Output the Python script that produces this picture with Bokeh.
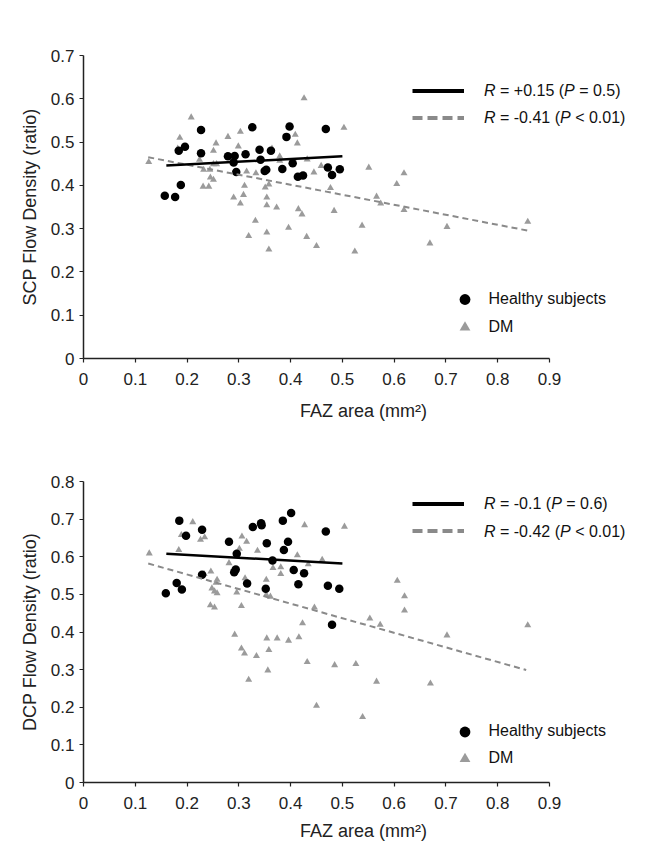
from bokeh.plotting import figure
from bokeh.layouts import column
from bokeh.models import Label, Legend, LegendItem, Range1d, FixedTicker
from bokeh.embed import file_html
from bokeh.resources import INLINE

# ---------------- data ----------------
x_ticks = [0, 0.1, 0.2, 0.3, 0.4, 0.5, 0.6, 0.7, 0.8, 0.9]
x_tick_labels = ["0", "0.1", "0.2", "0.3", "0.4", "0.5", "0.6", "0.7", "0.8", "0.9"]
a_y_ticks = [0, 0.1, 0.2, 0.3, 0.4, 0.5, 0.6, 0.7]
a_y_tick_labels = ["0", "0.1", "0.2", "0.3", "0.4", "0.5", "0.6", "0.7"]
b_y_ticks = [0, 0.1, 0.2, 0.3, 0.4, 0.5, 0.6, 0.7, 0.8]
b_y_tick_labels = ["0", "0.1", "0.2", "0.3", "0.4", "0.5", "0.6", "0.7", "0.8"]

# Panel A (SCP)
a_healthy_x = [0.227, 0.326, 0.398, 0.392, 0.468, 0.184, 0.196, 0.227, 0.279, 0.292,
               0.290, 0.313, 0.340, 0.362, 0.342, 0.295, 0.350, 0.353, 0.384, 0.404,
               0.414, 0.424, 0.472, 0.480, 0.495, 0.188, 0.157, 0.177]
a_healthy_y = [0.528, 0.534, 0.536, 0.512, 0.530, 0.480, 0.489, 0.474, 0.467, 0.468,
               0.453, 0.472, 0.482, 0.480, 0.459, 0.431, 0.433, 0.436, 0.438, 0.451,
               0.420, 0.423, 0.441, 0.424, 0.437, 0.401, 0.376, 0.373]
a_dm_x = [0.426, 0.208, 0.186, 0.303, 0.279, 0.256, 0.299, 0.251, 0.409, 0.413,
          0.182, 0.126, 0.224, 0.251, 0.257, 0.232, 0.244, 0.245, 0.251, 0.231,
          0.242, 0.315, 0.333, 0.379, 0.379, 0.364, 0.432, 0.445, 0.459, 0.311,
          0.351, 0.358, 0.477, 0.290, 0.309, 0.303, 0.354, 0.354, 0.373, 0.415,
          0.422, 0.484, 0.332, 0.396, 0.354, 0.319, 0.431, 0.450, 0.358,
          0.503, 0.551, 0.619, 0.605, 0.566, 0.574, 0.619, 0.538, 0.702, 0.669,
          0.524, 0.858]
a_dm_y = [0.601, 0.557, 0.510, 0.524, 0.512, 0.497, 0.490, 0.480, 0.517, 0.497,
          0.485, 0.454, 0.459, 0.449, 0.449, 0.436, 0.436, 0.418, 0.413, 0.397,
          0.397, 0.432, 0.428, 0.467, 0.457, 0.485, 0.460, 0.430, 0.445, 0.399,
          0.395, 0.402, 0.394, 0.372, 0.378, 0.358, 0.372, 0.354, 0.349, 0.345,
          0.333, 0.341, 0.318, 0.302, 0.291, 0.283, 0.281, 0.260, 0.252,
          0.533, 0.441, 0.428, 0.403, 0.374, 0.358, 0.343, 0.307, 0.304, 0.266,
          0.247, 0.316]
a_fit_healthy_x = [0.16, 0.50]
a_fit_healthy_y = [0.446, 0.467]
a_fit_dm_x = [0.125, 0.86]
a_fit_dm_y = [0.465, 0.295]
a_stats = [("+0.15", "=", "0.5"), ("-0.41", "<", "0.01")]

# Panel B (DCP)
b_healthy_x = [0.185, 0.198, 0.229, 0.281, 0.296, 0.327, 0.343, 0.344, 0.354, 0.385,
               0.401, 0.395, 0.387, 0.468, 0.365, 0.406, 0.426, 0.294, 0.291, 0.229,
               0.316, 0.352, 0.415, 0.472, 0.494, 0.180, 0.190, 0.159, 0.480]
b_healthy_y = [0.696, 0.656, 0.672, 0.640, 0.608, 0.679, 0.689, 0.684, 0.636, 0.696,
               0.716, 0.640, 0.618, 0.667, 0.590, 0.565, 0.556, 0.566, 0.559, 0.552,
               0.529, 0.515, 0.527, 0.523, 0.515, 0.530, 0.513, 0.503, 0.419]
b_dm_x = [0.127, 0.211, 0.189, 0.184, 0.226, 0.234, 0.306, 0.315, 0.301, 0.336,
          0.281, 0.427, 0.413, 0.434, 0.461, 0.366, 0.381, 0.381, 0.246, 0.233,
          0.258, 0.256, 0.248, 0.253, 0.258, 0.296, 0.312, 0.353, 0.353, 0.361,
          0.245, 0.253, 0.305, 0.446, 0.423, 0.292, 0.354, 0.374, 0.396, 0.416,
          0.305, 0.311, 0.334, 0.358, 0.356, 0.319, 0.432, 0.485, 0.450,
          0.504, 0.606, 0.620, 0.620, 0.553, 0.573, 0.702, 0.858, 0.526, 0.566,
          0.670, 0.539]
b_dm_y = [0.609, 0.692, 0.658, 0.618, 0.645, 0.652, 0.654, 0.640, 0.621, 0.616,
          0.583, 0.684, 0.604, 0.580, 0.592, 0.570, 0.572, 0.554, 0.561, 0.554,
          0.539, 0.531, 0.516, 0.508, 0.503, 0.505, 0.543, 0.539, 0.499, 0.494,
          0.471, 0.465, 0.469, 0.465, 0.423, 0.393, 0.383, 0.383, 0.377, 0.386,
          0.356, 0.343, 0.336, 0.352, 0.298, 0.273, 0.320, 0.312, 0.204,
          0.680, 0.536, 0.495, 0.457, 0.436, 0.419, 0.391, 0.418, 0.315, 0.268,
          0.263, 0.174]
b_fit_healthy_x = [0.16, 0.50]
b_fit_healthy_y = [0.608, 0.582]
b_fit_dm_x = [0.125, 0.855]
b_fit_dm_y = [0.582, 0.299]
b_stats = [("-0.1", "=", "0.6"), ("-0.42", "<", "0.01")]

# ---------------- styling ----------------
FONT = "Liberation Sans"
TICK_FS = 17
TITLE_FS = 18
LEG_FS = 16
DM_GRAY = "#9b9b9b"
LINE_GRAY = "#8a8a8a"
FRAME_LEFT = 83
PX_PER_UNIT = 466 / 0.9      # x: 0 -> 0.9 spans 466 px
FRAME_W = 560                # frame wider than the axis so legends are not clipped
W_TOTAL = 649

# Arial advance widths (em) for laying out the mixed italic legend text
ADV = {' ': 0.278, '=': 0.584, '+': 0.584, '-': 0.333, '<': 0.584, '.': 0.278,
       '(': 0.333, ')': 0.333, 'R': 0.722, 'P': 0.667}


def text_w(s, fs):
    return sum(ADV.get(c, 0.556) for c in s) * fs


def make_panel(letter, ylabel, ymax, y_ticks, y_tick_labels, hx, hy, dx, dy,
               fhx, fhy, fdx, fdy, stats, top_b, frame_h, bottom_b,
               letter_xy, line_rows, marker_rows, title_standoff):
    p = figure(frame_width=FRAME_W, frame_height=frame_h,
               min_border_left=FRAME_LEFT, min_border_right=W_TOTAL - FRAME_LEFT - FRAME_W,
               min_border_top=top_b, min_border_bottom=bottom_b,
               x_range=Range1d(0, FRAME_W / PX_PER_UNIT), y_range=Range1d(0, ymax),
               output_backend="svg", toolbar_location=None, tools="")
    p.outline_line_color = None
    p.xgrid.visible = False
    p.ygrid.visible = False
    p.background_fill_color = "white"

    for ax, ticks, labels in ((p.xaxis[0], x_ticks, x_tick_labels),
                              (p.yaxis[0], y_ticks, y_tick_labels)):
        ax.ticker = FixedTicker(ticks=ticks)
        ax.major_label_overrides = {t: l for t, l in zip(ticks, labels)}
        ax.bounds = (ticks[0], ticks[-1])
        ax.minor_tick_line_color = None
        ax.major_tick_in = 0
        ax.major_tick_out = 4
        ax.axis_line_width = 1.5
        ax.major_tick_line_width = 1.2
        ax.axis_line_color = "#222222"
        ax.major_tick_line_color = "#222222"
        ax.major_label_text_font = FONT
        ax.major_label_text_font_size = f"{TICK_FS}px"
        ax.major_label_text_color = "#222222"
        ax.axis_label_text_font = FONT
        ax.axis_label_text_font_size = f"{TITLE_FS}px"
        ax.axis_label_text_font_style = "normal"
        ax.axis_label_text_color = "#222222"
    p.xaxis.axis_label = "FAZ area (mm²)"
    p.yaxis.axis_label = ylabel
    p.xaxis.major_label_standoff = 10
    p.xaxis.axis_label_standoff = title_standoff
    p.yaxis.major_label_standoff = 5
    p.yaxis.axis_label_standoff = 8

    def to_dx(px):
        return (px - FRAME_LEFT) / PX_PER_UNIT

    def to_dy(py):
        return (top_b + frame_h - py) / frame_h * ymax

    dm_r = p.scatter(dx, dy, marker="triangle", size=7, fill_color=DM_GRAY,
                     line_color=None)
    h_r = p.scatter(hx, hy, marker="circle", size=8.5, fill_color="black",
                    line_color=None)
    p.line(fdx, fdy, line_color=LINE_GRAY, line_width=2, line_dash="6 4")
    p.line(fhx, fhy, line_color="black", line_width=2.5)

    # legend samples for the fit lines (thicker, hidden renderers)
    solid_s = p.line(fhx, fhy, line_color="black", line_width=4, visible=False)
    dash_s = p.line(fdx, fdy, line_color=LINE_GRAY, line_width=4, line_dash="10 5",
                    visible=False)
    row_gap = line_rows[1] - line_rows[0]
    leg_top = line_rows[0] - row_gap / 2
    glyph_left = 412
    leg1 = Legend(items=[LegendItem(label=" ", renderers=[solid_s]),
                         LegendItem(label=" ", renderers=[dash_s])],
                  location=(glyph_left - FRAME_LEFT, top_b + frame_h - (leg_top + 2 * row_gap)),
                  padding=0, spacing=0, margin=0, glyph_width=52,
                  glyph_height=int(round(row_gap)), label_height=int(round(row_gap)),
                  label_width=0, label_standoff=0,
                  inactive_fill_alpha=0,
                  border_line_alpha=0, background_fill_alpha=0)
    p.add_layout(leg1)

    tx0 = 483.5
    sp = text_w(" ", LEG_FS)
    for (rv, op, pv), ry in zip(stats, line_rows):
        pieces = [("R", "italic"), (f" = {rv} (", "normal"), ("P", "italic"),
                  (f" {op} {pv})", "normal")]
        x = tx0
        for s, st in pieces:
            stripped = s.lstrip(" ")
            lead = len(s) - len(stripped)
            p.add_layout(Label(x=to_dx(x + lead * sp), y=to_dy(ry), text=stripped,
                               text_font=FONT, text_font_size=f"{LEG_FS}px",
                               text_font_style=st, text_align="left",
                               text_baseline="middle", text_color="#111111"))
            x += text_w(s, LEG_FS)

    # legend for markers
    mgap = marker_rows[1] - marker_rows[0]
    m_top = marker_rows[0] - mgap / 2
    leg2 = Legend(items=[LegendItem(label="Healthy subjects", renderers=[h_r]),
                         LegendItem(label="DM", renderers=[dm_r])],
                  location=(464 - 13.5 - FRAME_LEFT, top_b + frame_h - (m_top + 2 * mgap)),
                  padding=0, spacing=0, margin=0, glyph_width=27,
                  glyph_height=int(round(mgap)), label_height=int(round(mgap)),
                  label_standoff=11, label_text_font=FONT,
                  label_text_font_size=f"{LEG_FS}px", label_text_color="#111111",
                  border_line_alpha=0, background_fill_alpha=0)
    p.add_layout(leg2)

    # panel letter
    p.add_layout(Label(x=to_dx(letter_xy[0]), y=to_dy(letter_xy[1]), text=letter,
                       text_font=FONT, text_font_size="26px", text_align="center",
                       text_baseline="middle", text_color="#111111"))
    return p


pA = make_panel("A", "SCP Flow Density (ratio)", 0.7, a_y_ticks, a_y_tick_labels,
                a_healthy_x, a_healthy_y, a_dm_x, a_dm_y,
                a_fit_healthy_x, a_fit_healthy_y, a_fit_dm_x, a_fit_dm_y, a_stats,
                top_b=55, frame_h=303, bottom_b=70,
                letter_xy=(18, 22), line_rows=(90, 117), marker_rows=(298, 326.5),
                title_standoff=13)
pB = make_panel("B", "DCP Flow Density (ratio)", 0.8, b_y_ticks, b_y_tick_labels,
                b_healthy_x, b_healthy_y, b_dm_x, b_dm_y,
                b_fit_healthy_x, b_fit_healthy_y, b_fit_dm_x, b_fit_dm_y, b_stats,
                top_b=53, frame_h=301, bottom_b=66,
                letter_xy=(20, 35), line_rows=(75.3, 102.7), marker_rows=(303, 330),
                title_standoff=9)

layout = column(pA, pB, spacing=0)
open("out.html", "w").write(file_html(layout, INLINE))
